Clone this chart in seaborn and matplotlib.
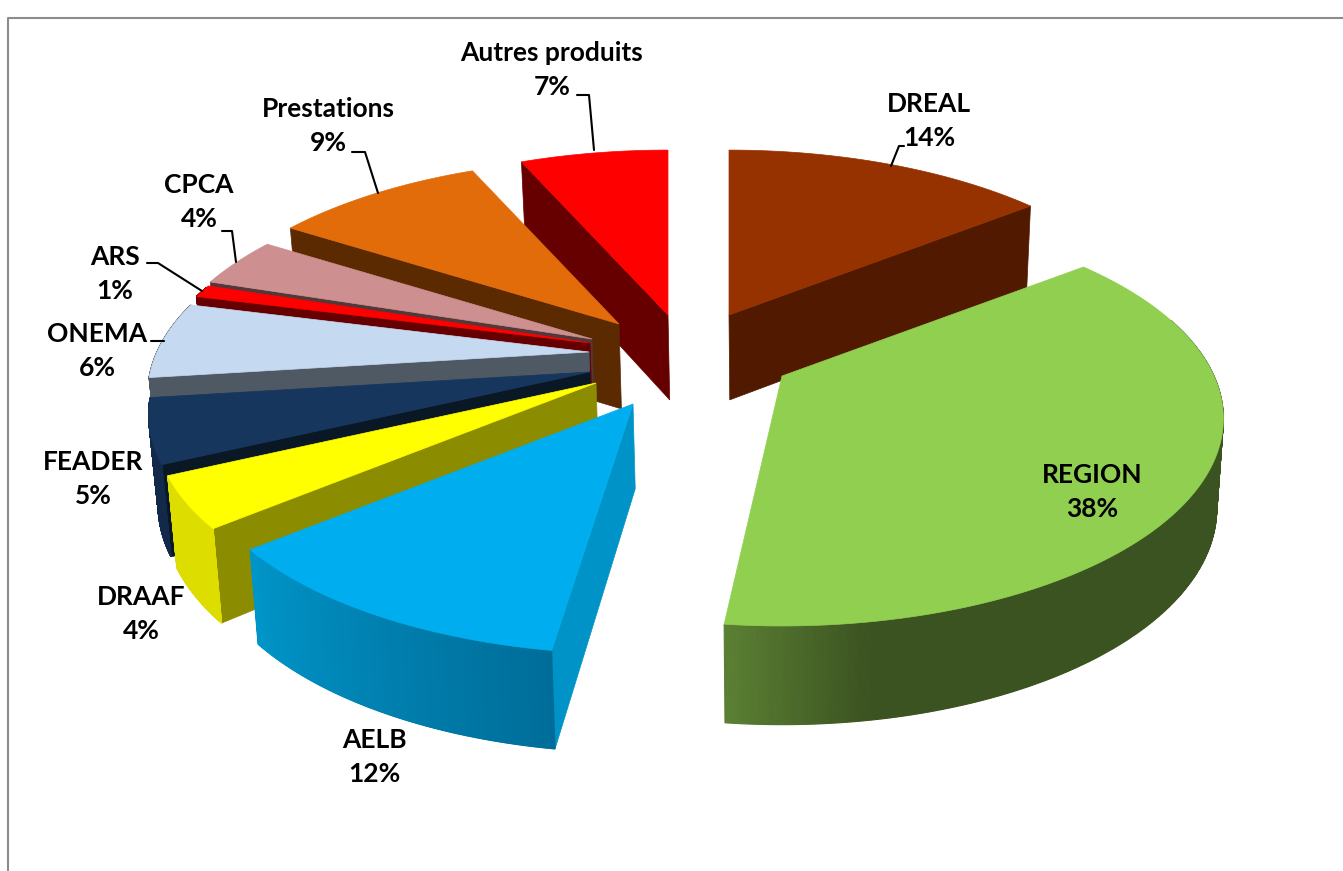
import matplotlib
matplotlib.use("Agg")
import matplotlib.pyplot as plt
import numpy as np
import seaborn as sns

labels = ["DREAL", "REGION", "AELB", "DRAAF", "FEADER", "ONEMA", "ARS", "CPCA", "Prestations", "Autres produits"]
percent = [14, 38, 12, 4, 5, 6, 1, 4, 9, 7]
# the printed percentages are rounded, these are the shares as the slices look
share = [14.4, 37.6, 12.0, 4.0, 5.0, 6.0, 1.0, 4.0, 9.4, 6.6]

top_colors = ["#963200", "#90CF50", "#00AEEF", "#FFFF00", "#17365D", "#C5D9F1", "#FF0000", "#CD8F8F", "#E26B0A", "#FF0000"]
wall_colors = ["#511900", "#3B5320", "#0093C8", "#8C8C00", "#0A1725", "#4F5964", "#660000", "#523838", "#5B2A00", "#660000"]
# rim shading, from the start of the arc to its end
rim_colors = [
    ["#511900"] * 2,
    ["#3B5320"] * 9 + ["#5A7F33"],
    ["#006D99", "#0095C8"],
    ["#DDDD00"] * 2,
    ["#12294A"] * 2,
    ["#4F5964"] * 2,
    ["#660000"] * 2,
    ["#523838"] * 2,
    ["#5B2A00"] * 2,
    ["#660000"] * 2,
]
# which cut face of the slice can be seen
wall_side = ["end", None, "start", "start", "start", "start", "start", "start", "start", "start"]
# each slice is pulled out by hand, like in the spreadsheet (pixels from the pie centre)
explode_x = [89, 142, -7, -44, -50, -51, -50, -48, -21, 28]
explode_y = [-45, 16, 44, 23, 12, -8, -17, -21, -36, -45]
radius_scale = [1, 1, 1, 1, 1, 1, 0.988, 0.988, 1, 1]
# small fixes of the cut edges, the perspective of the original is not regular
nudge_start = [0, 0, 0.4, 0, 0, 0, 0, 0, 0, 0]
nudge_end = [0, -0.3, 0, 0, 0, 0, 0, 0, 0, 0]
draw_order = [0, 9, 8, 7, 6, 5, 4, 3, 2, 1]

label_pos = [(929, 121), (1092, 492), (374, 757), (141, 614), (93, 479),
             (97, 351), (115, 274), (199, 202), (328, 126), (552, 70)]
leaders = [
    [(904, 146), (899, 146), (891, 166)],
    [(577, 95), (589, 95), (594, 150)],
    [(352, 152), (365, 152), (378, 193)],
    [(222, 231), (232, 231), (236, 262)],
    [(147, 263), (158, 263), (202, 291)],
    [(151, 341), (164, 341)],
]

center_x, center_y = 640, 360
radius = 432
tilt = 0.46
persp = 0.205
depth = 88
shrink = 0.985
vanish_x = 780


def project(apex, t, scale):
    # t is the share of the pie, clockwise from twelve o'clock
    a = 2 * np.pi * np.asarray(t) / 100
    x, y = np.sin(a), np.cos(a)
    s = 1 / (1 + persp * y)
    r = radius * scale
    return apex[0] + r * x * s, apex[1] - r * tilt * y * s, s, y


def lower(px, py, s):
    return vanish_x + (px - vanish_x) * shrink, py + depth * np.sqrt(s)


sns.set_theme(style="white")
plt.rcParams["font.family"] = ["Lato", "DejaVu Sans"]

fig = plt.figure(figsize=(13.43, 8.71), dpi=100)
ax = fig.add_axes([0, 0, 1, 1])
ax.set_xlim(0, 1343)
ax.set_ylim(871, 0)
ax.set_axis_off()

starts = np.cumsum([0] + share[:-1]) + nudge_start
ends = np.cumsum(share) + nudge_end

ax.plot([8, 8, 1343], [871, 18, 18], color="#8C8C8C", lw=1.5)

for i in draw_order:
    apex = (center_x + explode_x[i], center_y + explode_y[i])
    ts = np.linspace(starts[i], ends[i], 400)
    px, py, s, y = project(apex, ts, radius_scale[i])
    bx, by = lower(px, py, s)
    ax_, ay_ = lower(apex[0], apex[1], 0.93)

    # cut face
    if wall_side[i] is not None:
        k = 0 if wall_side[i] == "start" else -1
        ax.fill([apex[0], px[k], bx[k], ax_], [apex[1], py[k], by[k], ay_],
                color=wall_colors[i], lw=0.5)

    # outer rim, one thin quad per step so the shading can change along it
    shades = sns.blend_palette(rim_colors[i], len(ts) - 1)
    for j in range(len(ts) - 1):
        if y[j] > 0.3:  # far side of the pie, hidden by the top face anyway
            continue
        ax.fill([px[j], px[j + 1], bx[j + 1], bx[j]], [py[j], py[j + 1], by[j + 1], by[j]],
                color=shades[j], lw=0.8)

    # top face
    ax.fill(np.r_[apex[0], px], np.r_[apex[1], py], color=top_colors[i], lw=0.5)

for name, pct, pos in zip(labels, percent, label_pos):
    ax.text(pos[0], pos[1], f"{name}\n{pct}%", ha="center", va="center", fontsize=19,
            fontweight="bold", color="black", linespacing=1.47)

for line in leaders:
    ax.plot([p[0] for p in line], [p[1] for p in line], color="black", lw=1.5)

fig.savefig("out.png", dpi=100)
